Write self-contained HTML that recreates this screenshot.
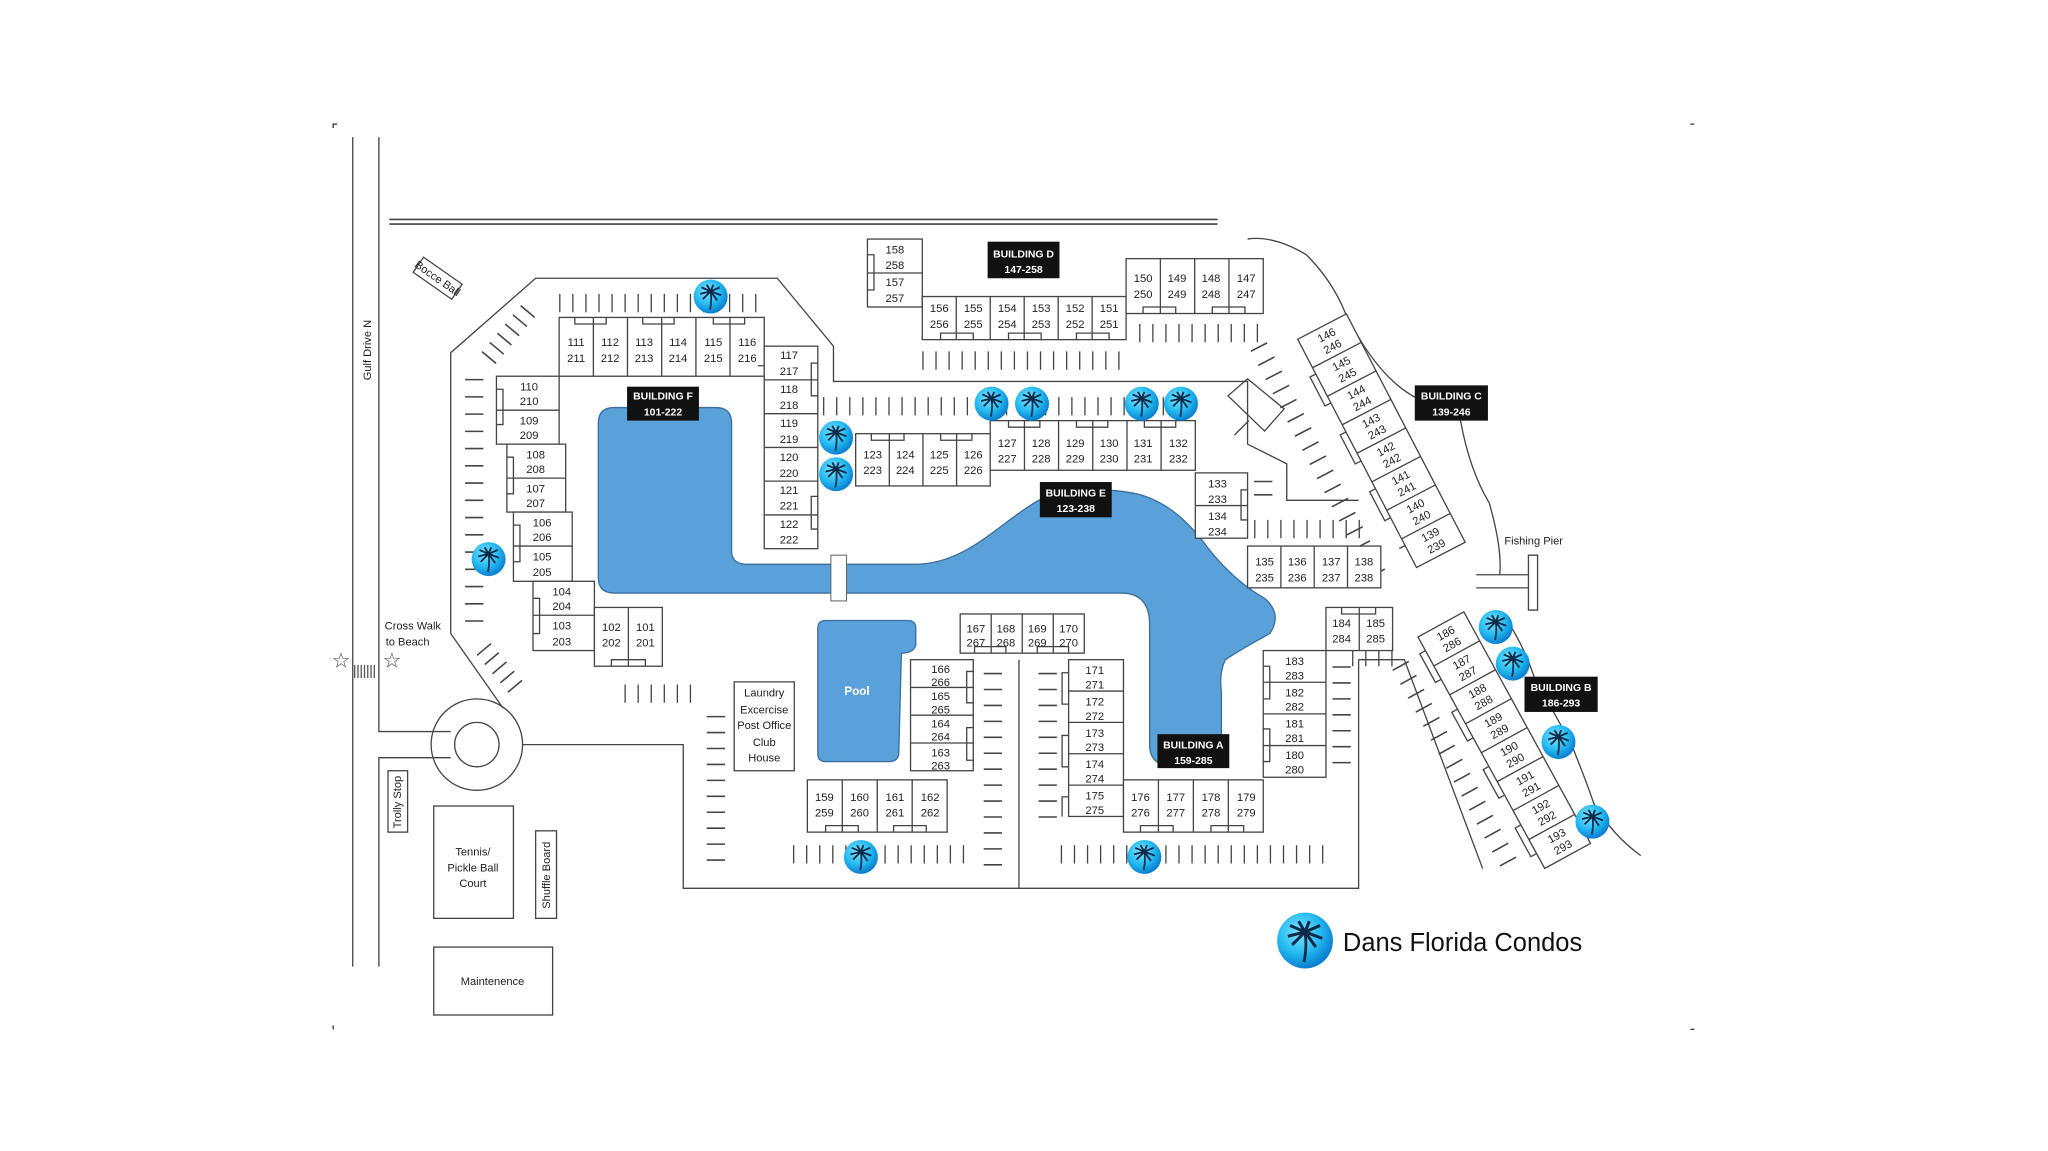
<!DOCTYPE html>
<html><head><meta charset="utf-8"><style>
html,body{margin:0;padding:0;background:#fff;}
svg{display:block;}
text{font-family:"Liberation Sans Narrow","Liberation Sans",sans-serif;fill:#222;}
.u{font-size:8.6px;text-anchor:middle;}
.b{font-size:8px;font-weight:bold;fill:#fff;text-anchor:middle;}
.s{font-size:8.5px;text-anchor:middle;}
</style></head><body>
<svg width="2048" height="1151" viewBox="0 0 1567.7 881.1" xmlns="http://www.w3.org/2000/svg">
<defs>
<radialGradient id="g" cx="40%" cy="35%" r="65%"><stop offset="0" stop-color="#7fe6ff"/><stop offset="0.6" stop-color="#22b8f0"/><stop offset="1" stop-color="#0a7fd0"/></radialGradient>
<symbol id="p" viewBox="-14 -14 28 28" overflow="visible">
<circle r="13" fill="url(#g)"/>
<path d="M0,-4 Q1,3 -0.5,10" stroke="#0d2a4a" stroke-width="1.3" fill="none"/>
<path d="M0,-4 L-8,-2 M0,-4 L-7,-7 M0,-4 L-3,-9 M0,-4 L2,-9 M0,-4 L7,-7 M0,-4 L8,-1 M0,-4 L-6,2 M0,-4 L5,3" stroke="#0d2a4a" stroke-width="1.4" fill="none"/>
</symbol>
</defs>
<g fill="none" stroke="#444" stroke-width="1">
<path d="M255,98 V95 H258 M1294,95 H1297 M255,785 V788 M1297,788 H1294" stroke="#333"/>
<path d="M270,105 V740 M290,105 V560 H345 M290,740 V580 H345"/>
<circle cx="365" cy="570" r="35"/><circle cx="365" cy="570" r="17"/>
<path d="M298,168 H932 M298,171.5 H932" stroke-width="1.2"/>
<path d="M345,485 V270 L410,213 H595 L638,265 V292 H955 V340 L985,355 V383 H1040"/>
<path d="M345,485 L385,542"/>
<path d="M400,570 H523 V680 H1040 V505 M780,505 V680"/>
<path d="M1040,505 H1075 L1135,665"/>
<path d="M955,183 Q975,180 1000,195 Q1020,215 1030,240 Q1055,290 1085,305 M1118,322 Q1125,360 1140,385 Q1150,420 1148,440"/>
<path d="M1150,470 Q1165,490 1175,520 Q1195,555 1203,570 Q1215,600 1220,615 Q1235,640 1256,655"/>
<path d="M1130,440 H1170 M1130,450 H1170 M1170,425 H1177 V467 H1170 Z"/>
<path d="M940,303 L955,290 L983,313 L968,330 Z M945,333 L956,322"/>
</g>
<path d="M470,312 H548 Q560,312 560,324 V422 Q560,432 572,432 H700 C740,432 765,400 795,383 Q830,370 870,378 Q900,385 925,420 Q945,445 968,458 Q982,470 972,485 Q950,497 938,505 Q933,515 935,530 V572 Q935,585 920,586 H893 Q880,584 880,570 V478 Q880,455 860,454 H470 Q458,454 458,442 V324 Q458,312 470,312 Z" fill="#5ba1d9" stroke="#3a6e9c" stroke-width="1"/>
<rect x="636" y="425" width="12" height="35" fill="#fff" stroke="#666" stroke-width="0.8"/>
<path d="M632,475 H695 Q701,475 701,481 V494 Q699,500 690,500 L688,576 Q688,583 680,583 H632 Q626,583 626,577 V481 Q626,475 632,475 Z" fill="#5ba1d9" stroke="#3a6e9c"/>
<text x="656" y="532" style="font-size:9px;fill:#fff;text-anchor:middle;font-weight:bold">Pool</text>
<g stroke="#444" fill="none">
<line x1="428" y1="232" x2="585" y2="232" stroke-width="14" stroke-dasharray="1 9"/>
<line x1="706" y1="276" x2="862" y2="276" stroke-width="14" stroke-dasharray="1 9"/>
<line x1="872" y1="255" x2="967" y2="255" stroke-width="14" stroke-dasharray="1 9"/>
<line x1="630" y1="311" x2="915" y2="311" stroke-width="14" stroke-dasharray="1 9"/>
<line x1="960" y1="405" x2="1045" y2="405" stroke-width="14" stroke-dasharray="1 9"/>
<line x1="478" y1="531" x2="535" y2="531" stroke-width="14" stroke-dasharray="1 9"/>
<line x1="607" y1="654" x2="742" y2="654" stroke-width="14" stroke-dasharray="1 9"/>
<line x1="812" y1="654" x2="1015" y2="654" stroke-width="14" stroke-dasharray="1 9"/>
<line x1="1035" y1="503" x2="1068" y2="503" stroke-width="14" stroke-dasharray="1 9"/>
<line x1="363" y1="290" x2="363" y2="478" stroke-width="14" stroke-dasharray="1.2 12"/>
<line x1="548" y1="548" x2="548" y2="660" stroke-width="14" stroke-dasharray="1.2 11"/>
<line x1="760" y1="515" x2="760" y2="670" stroke-width="14" stroke-dasharray="1.2 11"/>
<line x1="802" y1="515" x2="802" y2="632" stroke-width="14" stroke-dasharray="1.2 11"/>
<line x1="1027" y1="510" x2="1027" y2="585" stroke-width="14" stroke-dasharray="1.2 11"/>
<line x1="967" y1="368" x2="967" y2="388" stroke-width="14" stroke-dasharray="1.2 9"/>
<g transform="translate(390,255) rotate(-50)"><line x1="-25" y1="0" x2="25" y2="0" stroke-width="14" stroke-dasharray="1.2 8"/></g>
<g transform="translate(383,512) rotate(50)"><line x1="-20" y1="0" x2="25" y2="0" stroke-width="14" stroke-dasharray="1.2 8"/></g>
<g transform="translate(1005,345) rotate(62.5)"><line x1="-90" y1="0" x2="110" y2="0" stroke-width="14" stroke-dasharray="1.2 11"/></g>
<g transform="translate(1108,575) rotate(61.3)"><line x1="-75" y1="0" x2="105" y2="0" stroke-width="14" stroke-dasharray="1.2 11"/></g>
</g>
<g fill="#fff" stroke="#444" stroke-width="1">
<rect x="428" y="243" width="157" height="45"/><path d="M454.2,243V288M480.3,243V288M506.5,243V288M532.7,243V288M558.8,243V288"/>
<rect x="585" y="265" width="41" height="155"/><path d="M585,290.8H626M585,316.7H626M585,342.5H626M585,368.3H626M585,394.2H626"/>
<rect x="380" y="288" width="48" height="52"/><path d="M380,314H428"/>
<rect x="388" y="340" width="45" height="52"/><path d="M388,366H433"/>
<rect x="393" y="392" width="45" height="53"/><path d="M393,418H438"/>
<rect x="408" y="445" width="47" height="53"/><path d="M408,471H455"/>
<rect x="455" y="465" width="52" height="45"/><path d="M481,465V510"/>
<rect x="655" y="332" width="103" height="40"/><path d="M680.75,332V372M706.5,332V372M732.25,332V372"/>
<rect x="758" y="322" width="157" height="38"/><path d="M784.2,322V360M810.3,322V360M836.5,322V360M862.7,322V360M888.8,322V360"/>
<rect x="915" y="362" width="40" height="50"/><path d="M915,387H955"/>
<rect x="955" y="418" width="102" height="32"/><path d="M980.5,418V450M1006,418V450M1031.5,418V450"/>
<rect x="664" y="183" width="42" height="52"/><path d="M664,209H706"/>
<rect x="706" y="227" width="156" height="33"/><path d="M732,227V260M758,227V260M784,227V260M810,227V260M836,227V260"/>
<rect x="862" y="198" width="105" height="42"/><path d="M888.25,198V240M914.5,198V240M940.75,198V240"/>
<rect x="735" y="470" width="95" height="30"/><path d="M758.75,470V500M782.5,470V500M806.25,470V500"/>
<rect x="697" y="505" width="48" height="85"/><path d="M697,526.25H745M697,547.5H745M697,568.75H745"/>
<rect x="818" y="505" width="42" height="120"/><path d="M818,529H860M818,553H860M818,577H860M818,601H860"/>
<rect x="618" y="597" width="107" height="40"/><path d="M644.75,597V637M671.5,597V637M698.25,597V637"/>
<rect x="860" y="597" width="107" height="40"/><path d="M886.75,597V637M913.5,597V637M940.25,597V637"/>
<rect x="967" y="498" width="48" height="97"/><path d="M967,522.25H1015M967,546.5H1015M967,570.75H1015"/>
<rect x="1015" y="465" width="51" height="33"/><path d="M1040.5,465V498"/>
<rect x="562" y="522" width="46" height="68"/>
<rect x="332" y="617" width="61" height="86"/>
<rect x="410" y="636" width="16" height="67"/>
<rect x="297" y="590" width="15" height="47"/>
<rect x="332" y="725" width="91" height="52"/>
<rect x="-18" y="-7" width="36" height="14" transform="translate(335,213) rotate(35)"/>
<path fill="none" d="M440,243V248H464V243M492,243V248H516V243M546,243V248H570V243M667,332V337H692V332M720,332V337H744V332M772,322V327H796V322M824,322V327H848V322M876,322V327H900V322M720,260V255H745V260M772,260V255H797V260M824,260V255H849V260M875,240V235H900V240M928,240V235H953V240M632,637V632H657V637M684,637V632H709V637M873,637V632H898V637M927,637V632H952V637M967,510H972V535H967M967,558H972V583H967M745,514H740V538H745M745,557H740V582H745M818,515H813V539H818M818,563H813V587H818M818,610H813V625M664,195H669V222H664M380,298H385V325H380M388,350H393V378H388M393,402H398V430H393M408,458H413V485H408M585,280H580M626,278H621V303H626M626,380H621V405H626M1027,465V470H1053V465M955,375H950V398H955M468,510V505H494V510M746,500V495H770V500M794,500V495H818V500"/>
</g>
<g fill="#fff" stroke="#444">
<g transform="translate(1012,250) rotate(62.5)">
<rect x="0" y="-21" width="197" height="42"/>
<path d="M24.6,-21V21M49.2,-21V21M73.8,-21V21M98.4,-21V21M123,-21V21M147.6,-21V21M172.2,-21V21"/>
<path fill="none" d="M30,21V26H55V21M80,21V26H105V21M129,21V26H154V21M178,21V26"/>
</g>
<g transform="translate(1103,478) rotate(61.3)">
<rect x="0" y="-20" width="202" height="40"/>
<path d="M25.25,-20V20M50.5,-20V20M75.75,-20V20M101,-20V20M126.25,-20V20M151.5,-20V20M176.75,-20V20"/>
<path fill="none" d="M12,20V25H37V20M63,20V25H88V20M113,20V25H138V20M164,20V25H189V20"/>
</g>
</g>
<g class="u">
<text class="u" x="441" y="265">111</text><text class="u" x="441" y="277">211</text>
<text class="u" x="467" y="265">112</text><text class="u" x="467" y="277">212</text>
<text class="u" x="493" y="265">113</text><text class="u" x="493" y="277">213</text>
<text class="u" x="519" y="265">114</text><text class="u" x="519" y="277">214</text>
<text class="u" x="546" y="265">115</text><text class="u" x="546" y="277">215</text>
<text class="u" x="572" y="265">116</text><text class="u" x="572" y="277">216</text>
<text class="u" x="604" y="275">117</text><text class="u" x="604" y="287">217</text>
<text class="u" x="604" y="301">118</text><text class="u" x="604" y="313">218</text>
<text class="u" x="604" y="327">119</text><text class="u" x="604" y="339">219</text>
<text class="u" x="604" y="353">120</text><text class="u" x="604" y="365">220</text>
<text class="u" x="604" y="378">121</text><text class="u" x="604" y="390">221</text>
<text class="u" x="604" y="404">122</text><text class="u" x="604" y="416">222</text>
<text class="u" x="405" y="299">110</text><text class="u" x="405" y="310">210</text>
<text class="u" x="405" y="325">109</text><text class="u" x="405" y="336">209</text>
<text class="u" x="410" y="351">108</text><text class="u" x="410" y="362">208</text>
<text class="u" x="410" y="377">107</text><text class="u" x="410" y="388">207</text>
<text class="u" x="415" y="403">106</text><text class="u" x="415" y="414">206</text>
<text class="u" x="415" y="429">105</text><text class="u" x="415" y="441">205</text>
<text class="u" x="430" y="456">104</text><text class="u" x="430" y="467">204</text>
<text class="u" x="430" y="482">103</text><text class="u" x="430" y="494">203</text>
<text class="u" x="468" y="483">102</text><text class="u" x="468" y="495">202</text>
<text class="u" x="494" y="483">101</text><text class="u" x="494" y="495">201</text>
<text class="u" x="668" y="351">123</text><text class="u" x="668" y="363">223</text>
<text class="u" x="693" y="351">124</text><text class="u" x="693" y="363">224</text>
<text class="u" x="719" y="351">125</text><text class="u" x="719" y="363">225</text>
<text class="u" x="745" y="351">126</text><text class="u" x="745" y="363">226</text>
<text class="u" x="771" y="342">127</text><text class="u" x="771" y="354">227</text>
<text class="u" x="797" y="342">128</text><text class="u" x="797" y="354">228</text>
<text class="u" x="823" y="342">129</text><text class="u" x="823" y="354">229</text>
<text class="u" x="849" y="342">130</text><text class="u" x="849" y="354">230</text>
<text class="u" x="875" y="342">131</text><text class="u" x="875" y="354">231</text>
<text class="u" x="902" y="342">132</text><text class="u" x="902" y="354">232</text>
<text class="u" x="932" y="373">133</text><text class="u" x="932" y="385">233</text>
<text class="u" x="932" y="398">134</text><text class="u" x="932" y="410">234</text>
<text class="u" x="968" y="433">135</text><text class="u" x="968" y="445">235</text>
<text class="u" x="993" y="433">136</text><text class="u" x="993" y="445">236</text>
<text class="u" x="1019" y="433">137</text><text class="u" x="1019" y="445">237</text>
<text class="u" x="1044" y="433">138</text><text class="u" x="1044" y="445">238</text>
<text class="u" x="685" y="194">158</text><text class="u" x="685" y="206">258</text>
<text class="u" x="685" y="219">157</text><text class="u" x="685" y="231">257</text>
<text class="u" x="719" y="239">156</text><text class="u" x="719" y="251">256</text>
<text class="u" x="745" y="239">155</text><text class="u" x="745" y="251">255</text>
<text class="u" x="771" y="239">154</text><text class="u" x="771" y="251">254</text>
<text class="u" x="797" y="239">153</text><text class="u" x="797" y="251">253</text>
<text class="u" x="823" y="239">152</text><text class="u" x="823" y="251">252</text>
<text class="u" x="849" y="239">151</text><text class="u" x="849" y="251">251</text>
<text class="u" x="875" y="216">150</text><text class="u" x="875" y="228">250</text>
<text class="u" x="901" y="216">149</text><text class="u" x="901" y="228">249</text>
<text class="u" x="927" y="216">148</text><text class="u" x="927" y="228">248</text>
<text class="u" x="954" y="216">147</text><text class="u" x="954" y="228">247</text>
<text class="u" x="747" y="484">167</text><text class="u" x="747" y="495">267</text>
<text class="u" x="770" y="484">168</text><text class="u" x="770" y="495">268</text>
<text class="u" x="794" y="484">169</text><text class="u" x="794" y="495">269</text>
<text class="u" x="818" y="484">170</text><text class="u" x="818" y="495">270</text>
<text class="u" x="720" y="515">166</text><text class="u" x="720" y="525">266</text>
<text class="u" x="720" y="536">165</text><text class="u" x="720" y="546">265</text>
<text class="u" x="720" y="557">164</text><text class="u" x="720" y="567">264</text>
<text class="u" x="720" y="579">163</text><text class="u" x="720" y="589">263</text>
<text class="u" x="838" y="516">171</text><text class="u" x="838" y="527">271</text>
<text class="u" x="838" y="540">172</text><text class="u" x="838" y="551">272</text>
<text class="u" x="838" y="564">173</text><text class="u" x="838" y="575">273</text>
<text class="u" x="838" y="588">174</text><text class="u" x="838" y="599">274</text>
<text class="u" x="838" y="612">175</text><text class="u" x="838" y="623">275</text>
<text class="u" x="631" y="613">159</text><text class="u" x="631" y="625">259</text>
<text class="u" x="658" y="613">160</text><text class="u" x="658" y="625">260</text>
<text class="u" x="685" y="613">161</text><text class="u" x="685" y="625">261</text>
<text class="u" x="712" y="613">162</text><text class="u" x="712" y="625">262</text>
<text class="u" x="873" y="613">176</text><text class="u" x="873" y="625">276</text>
<text class="u" x="900" y="613">177</text><text class="u" x="900" y="625">277</text>
<text class="u" x="927" y="613">178</text><text class="u" x="927" y="625">278</text>
<text class="u" x="954" y="613">179</text><text class="u" x="954" y="625">279</text>
<text class="u" x="991" y="509">183</text><text class="u" x="991" y="520">283</text>
<text class="u" x="991" y="533">182</text><text class="u" x="991" y="544">282</text>
<text class="u" x="991" y="557">181</text><text class="u" x="991" y="568">281</text>
<text class="u" x="991" y="581">180</text><text class="u" x="991" y="592">280</text>
<text class="u" x="1027" y="480">184</text><text class="u" x="1027" y="492">284</text>
<text class="u" x="1053" y="480">185</text><text class="u" x="1053" y="492">285</text>
</g>
<g transform="translate(1012,250) rotate(62.5)">
<g transform="translate(12.3,0) rotate(-90)"><text class="u" y="-2">146</text><text class="u" y="8">246</text></g>
<g transform="translate(36.9,0) rotate(-90)"><text class="u" y="-2">145</text><text class="u" y="8">245</text></g>
<g transform="translate(61.5,0) rotate(-90)"><text class="u" y="-2">144</text><text class="u" y="8">244</text></g>
<g transform="translate(86.1,0) rotate(-90)"><text class="u" y="-2">143</text><text class="u" y="8">243</text></g>
<g transform="translate(110.7,0) rotate(-90)"><text class="u" y="-2">142</text><text class="u" y="8">242</text></g>
<g transform="translate(135.3,0) rotate(-90)"><text class="u" y="-2">141</text><text class="u" y="8">241</text></g>
<g transform="translate(159.9,0) rotate(-90)"><text class="u" y="-2">140</text><text class="u" y="8">240</text></g>
<g transform="translate(184.5,0) rotate(-90)"><text class="u" y="-2">139</text><text class="u" y="8">239</text></g>
</g>
<g transform="translate(1103,478) rotate(61.3)">
<g transform="translate(12.6,0) rotate(-90)"><text class="u" y="-2">186</text><text class="u" y="8">286</text></g>
<g transform="translate(37.9,0) rotate(-90)"><text class="u" y="-2">187</text><text class="u" y="8">287</text></g>
<g transform="translate(63.1,0) rotate(-90)"><text class="u" y="-2">188</text><text class="u" y="8">288</text></g>
<g transform="translate(88.4,0) rotate(-90)"><text class="u" y="-2">189</text><text class="u" y="8">289</text></g>
<g transform="translate(113.6,0) rotate(-90)"><text class="u" y="-2">190</text><text class="u" y="8">290</text></g>
<g transform="translate(138.9,0) rotate(-90)"><text class="u" y="-2">191</text><text class="u" y="8">291</text></g>
<g transform="translate(164.1,0) rotate(-90)"><text class="u" y="-2">192</text><text class="u" y="8">292</text></g>
<g transform="translate(189.4,0) rotate(-90)"><text class="u" y="-2">193</text><text class="u" y="8">293</text></g>
</g>
<g fill="#111">
<rect x="480" y="296" width="55" height="26"/>
<rect x="756" y="185" width="55" height="28"/>
<rect x="796" y="369" width="55" height="27"/>
<rect x="1083" y="295" width="56" height="27"/>
<rect x="886" y="562" width="55" height="26"/>
<rect x="1167" y="518" width="56" height="27"/>
</g>
<text class="b" x="507.5" y="306">BUILDING F</text><text class="b" x="507.5" y="318">101-222</text>
<text class="b" x="783.5" y="197">BUILDING D</text><text class="b" x="783.5" y="209">147-258</text>
<text class="b" x="823.5" y="380">BUILDING E</text><text class="b" x="823.5" y="392">123-238</text>
<text class="b" x="1111" y="306">BUILDING C</text><text class="b" x="1111" y="318">139-246</text>
<text class="b" x="913.5" y="573">BUILDING A</text><text class="b" x="913.5" y="585">159-285</text>
<text class="b" x="1195" y="529">BUILDING B</text><text class="b" x="1195" y="541">186-293</text>
<text class="s" x="585" y="533">Laundry</text>
<text class="s" x="585" y="546">Excercise</text>
<text class="s" x="585" y="558">Post Office</text>
<text class="s" x="585" y="571">Club</text>
<text class="s" x="585" y="583">House</text>
<text class="s" x="362" y="655">Tennis/</text>
<text class="s" x="362" y="667">Pickle Ball</text>
<text class="s" x="362" y="679">Court</text>
<text class="s" x="377" y="754">Maintenence</text>
<text class="s" x="1174" y="417">Fishing Pier</text>
<text class="s" x="316" y="482">Cross Walk</text>
<text class="s" x="312" y="494">to Beach</text>
<text class="s" transform="translate(335,213) rotate(35)" y="3">Bocce Ball</text>
<text class="s" transform="translate(284,268) rotate(-90)">Gulf Drive N</text>
<text class="s" transform="translate(307,614) rotate(-90)">Trolly Stop</text>
<text class="s" transform="translate(421,670) rotate(-90)">Shuffle Board</text>
<text x="261" y="511" style="font-size:16px;text-anchor:middle;fill:#444">☆</text>
<text x="300" y="511" style="font-size:16px;text-anchor:middle;fill:#444">☆</text>
<line x1="279" y1="506" x2="279" y2="522" stroke="#555" stroke-width="10" stroke-dasharray="1 1.5" transform="rotate(90 279 514)"/>
<use href="#p" x="530" y="213" width="28" height="28"/>
<use href="#p" x="360" y="414" width="28" height="28"/>
<use href="#p" x="626" y="321" width="28" height="28"/>
<use href="#p" x="626" y="349" width="28" height="28"/>
<use href="#p" x="745" y="295" width="28" height="28"/>
<use href="#p" x="776" y="295" width="28" height="28"/>
<use href="#p" x="860" y="295" width="28" height="28"/>
<use href="#p" x="890" y="295" width="28" height="28"/>
<use href="#p" x="645" y="642" width="28" height="28"/>
<use href="#p" x="862" y="642" width="28" height="28"/>
<use href="#p" x="1131" y="466" width="28" height="28"/>
<use href="#p" x="1144" y="494" width="28" height="28"/>
<use href="#p" x="1179" y="554" width="28" height="28"/>
<use href="#p" x="1205" y="615" width="28" height="28"/>
<use href="#p" x="976" y="697" width="46" height="46"/>
<text x="1028" y="728" style="font-family:'Liberation Sans',sans-serif;font-size:19.5px;fill:#111">Dans Florida Condos</text>
</svg>
</body></html>
